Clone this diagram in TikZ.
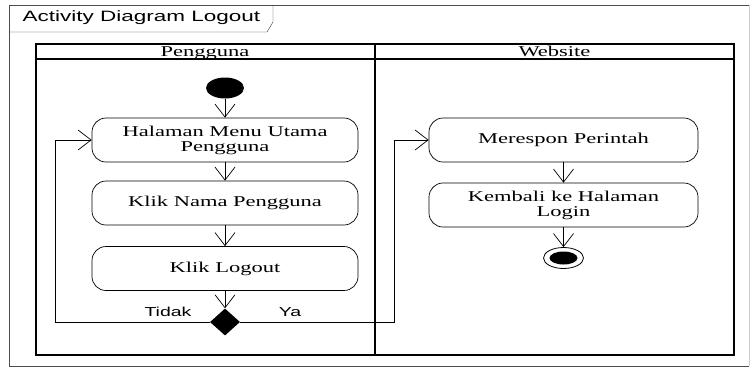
\documentclass[tikz,border=0pt]{standalone}
\usepackage{fontspec}
\setmainfont[FakeStretch=1.5]{Liberation Serif}
\setsansfont[FakeStretch=1.5]{Liberation Sans}
\usetikzlibrary{arrows.meta,shapes.geometric}
\tikzset{
	act/.style={draw, line width=0.7pt, rounded corners=14pt, minimum width=266pt, minimum height=44pt, inner sep=0pt, align=center, font=\fontsize{15}{15}\selectfont},
	flow/.style={line width=0.7pt, -{Straight Barb[length=13pt,width=20pt]}},
	lane/.style={line width=1.8pt},
	guard/.style={font=\sffamily\fontsize{13}{13}\selectfont},
}
\begin{document}
\begin{tikzpicture}[x=1pt,y=-1pt]
	\useasboundingbox (0,0) rectangle (752,370);
	\draw[black!70] (749,5) -- (9,5) -- (9,366) -- (749,366);
	\draw[black!20] (749,5) -- (749,366);
	\draw[black!80] (9,32) -- (267,32) -- (273,22) -- (273,5);
	\node[anchor=west, font=\sffamily\fontsize{15}{15}\selectfont] (judul) at (19,18) {Activity Diagram Logout};
	\draw[lane] (36,44) rectangle (734,355);
	\draw[lane] (375,44) -- (375,355);
	\draw[line width=1.4pt] (36,59) -- (734,59);
	\node[anchor=base, font=\fontsize{15}{15}\selectfont] (pengguna) at (205,56.5) {Pengguna};
	\node[anchor=base, font=\fontsize{15}{15}\selectfont] (website) at (554.5,56.5) {Website};
	\node[ellipse, fill, minimum width=38pt, minimum height=21pt, inner sep=0pt] (mulai) at (225,88) {};
	\node[act] (menu) at (225,140) {Halaman Menu Utama\\Pengguna};
	\node[act] (nama) at (225,203) {Klik Nama Pengguna};
	\node[act] (logout) at (225,268.5) {Klik Logout};
	\node[diamond, fill, minimum width=30pt, minimum height=27pt, inner sep=0pt] (pilih) at (225,322) {};
	\node[act, minimum width=269pt] (respon) at (563.5,140) {Merespon Perintah};
	\node[act, minimum width=269pt] (kembali) at (563.5,205) {Kembali ke Halaman\\Login};
	\node[ellipse, draw, line width=0.8pt, minimum width=40pt, minimum height=21pt, inner sep=0pt] (akhir) at (563.5,258) {};
	\node[ellipse, fill, minimum width=28pt, minimum height=13pt, inner sep=0pt] (akhirisi) at (akhir) {};
	\coordinate (kiri) at (55,322);
	\coordinate (kanan) at (394,322);
	\draw[flow] (mulai) -- (menu);
	\draw[flow] (menu) -- (nama);
	\draw[flow] (nama) -- (logout);
	\draw[flow] (logout) -- (pilih);
	\draw[flow] (pilih.west) -- (kiri) |- (menu.west);
	\draw[flow] (pilih.east) -- (kanan) |- (respon.west);
	\draw[flow] (respon) -- (kembali);
	\draw[flow] (kembali) -- (akhir);
	\node[guard] (tidak) at (168,312) {Tidak};
	\node[guard] (ya) at (290,312) {Ya};
\end{tikzpicture}
\end{document}
